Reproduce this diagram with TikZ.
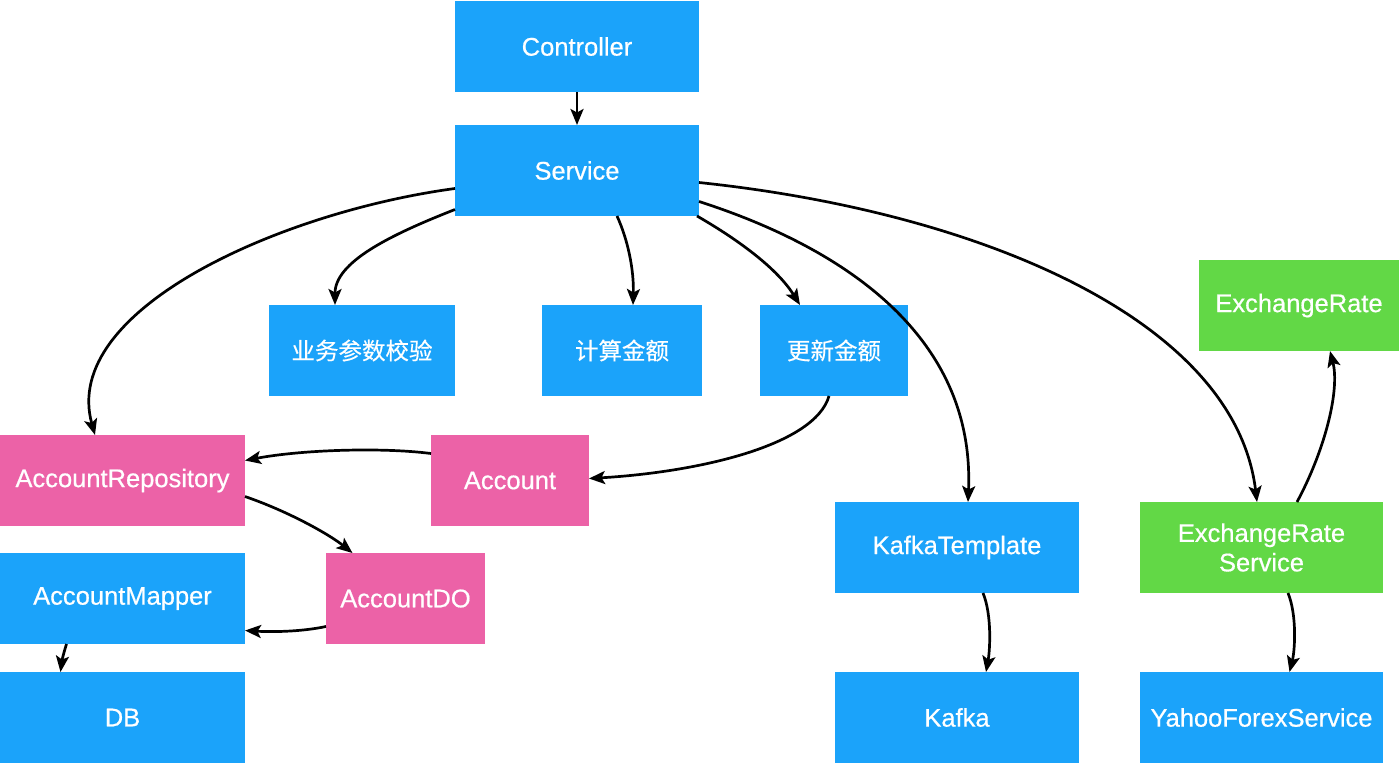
\documentclass[tikz,border=0pt]{standalone}
\usepackage{fontspec}
\setmainfont{Liberation Sans}[FakeBold=0.6]
\newfontfamily\cjk{Noto Sans CJK SC}[FakeBold=0.4]
\usetikzlibrary{arrows.meta}
\definecolor{cblue}{HTML}{1BA3FA}
\definecolor{cpink}{HTML}{EC62A7}
\definecolor{cgreen}{HTML}{62D846}
\tikzset{
  box/.style={rectangle, inner sep=0pt, outer sep=0pt, minimum height=91pt, text=white, align=center,
    font=\fontsize{25.5}{29.5}\selectfont},
  bluebox/.style={box, fill=cblue},
  pinkbox/.style={box, fill=cpink},
  greenbox/.style={box, fill=cgreen},
  cn/.style={font=\cjk\fontsize{23.5}{28}\selectfont},
  conn/.style={line width=2.7pt, -{Stealth[length=16pt,width=13pt,inset=3.5pt]}, black},
}
\begin{document}
\begin{tikzpicture}[x=1pt,y=-1pt]
\useasboundingbox (0,0) rectangle (1400,764);
% nodes
\node[bluebox, minimum width=244pt] (ctrl) at (577,46.5) {Controller};
\node[bluebox, minimum width=244pt] (svc) at (577,170.5) {Service};
\node[bluebox, cn, minimum width=186pt] (check) at (362,350.5) {业务参数校验};
\node[bluebox, cn, minimum width=160pt] (calc) at (622,350.5) {计算金额};
\node[bluebox, cn, minimum width=148pt] (upd) at (834,350.5) {更新金额};
\node[greenbox, minimum width=200pt] (exr) at (1299,305.5) {ExchangeRate};
\node[pinkbox, minimum width=245pt] (repo) at (122.5,480.5) {AccountRepository};
\node[pinkbox, minimum width=158pt] (acct) at (510,480.5) {Account};
\node[bluebox, minimum width=244pt] (kt) at (957,547.5) {KafkaTemplate};
\node[greenbox, minimum width=243pt] (ers) at (1261.5,547.5) {ExchangeRate\\Service};
\node[bluebox, minimum width=245pt] (mapper) at (122.5,598.5) {AccountMapper};
\node[pinkbox, minimum width=159pt] (ado) at (405.5,598.5) {AccountDO};
\node[bluebox, minimum width=245pt] (db) at (122.5,717.5) {DB};
\node[bluebox, minimum width=244pt] (kafka) at (957,717.5) {Kafka};
\node[bluebox, minimum width=243pt] (yahoo) at (1261.5,717.5) {YahooForexService};
% connectors
\draw[conn] (ctrl.south) -- (svc.north);
\draw[conn] ([yshift=-18pt]svc.west) .. controls (280,212) and (60,310) .. ([xshift=-27.5pt]repo.north);
\draw[conn] ([yshift=-39pt]svc.west) .. controls (390,235) and (335,262) .. ([xshift=-27pt]check.north);
\draw[conn] ([xshift=40pt]svc.south) .. controls (628,240) and (634,270) .. ([xshift=11pt]calc.north);
\draw[conn] ([xshift=-2pt]svc.south east) .. controls (730,235) and (775,265) .. ([xshift=-34pt]upd.north);
\draw[conn] ([yshift=-31pt]svc.east) .. controls (850,250) and (975,340) .. ([xshift=11pt]kt.north);
\draw[conn] ([yshift=-12pt]svc.east) .. controls (980,212) and (1235,320) .. ([xshift=-4.5pt]ers.north);
\draw[conn] ([xshift=35.5pt]ers.north) .. controls (1325,450) and (1340,390) .. ([xshift=31pt]exr.south);
\draw[conn] ([xshift=-5pt]upd.south) .. controls (815,445) and (700,472) .. ([yshift=2pt]acct.east);
\draw[conn] ([yshift=27pt]acct.west) .. controls (380,447) and (300,450) .. ([yshift=20pt]repo.east);
\draw[conn] ([yshift=-16pt]repo.east) .. controls (290,512) and (330,535) .. ([xshift=-53pt]ado.north);
\draw[conn] ([yshift=-28pt]ado.west) .. controls (300,632) and (270,632) .. ([yshift=-32pt]mapper.east);
\draw[conn] ([xshift=-56pt]mapper.south) .. controls (64,652) and (62,660) .. ([xshift=-62pt]db.north);
\draw[conn] ([xshift=26pt]kt.south) .. controls (992,615) and (990,650) .. ([xshift=29pt]kafka.north);
\draw[conn] ([xshift=26.5pt]ers.south) .. controls (1297,615) and (1295,650) .. ([xshift=28pt]yahoo.north);
\end{tikzpicture}
\end{document}
